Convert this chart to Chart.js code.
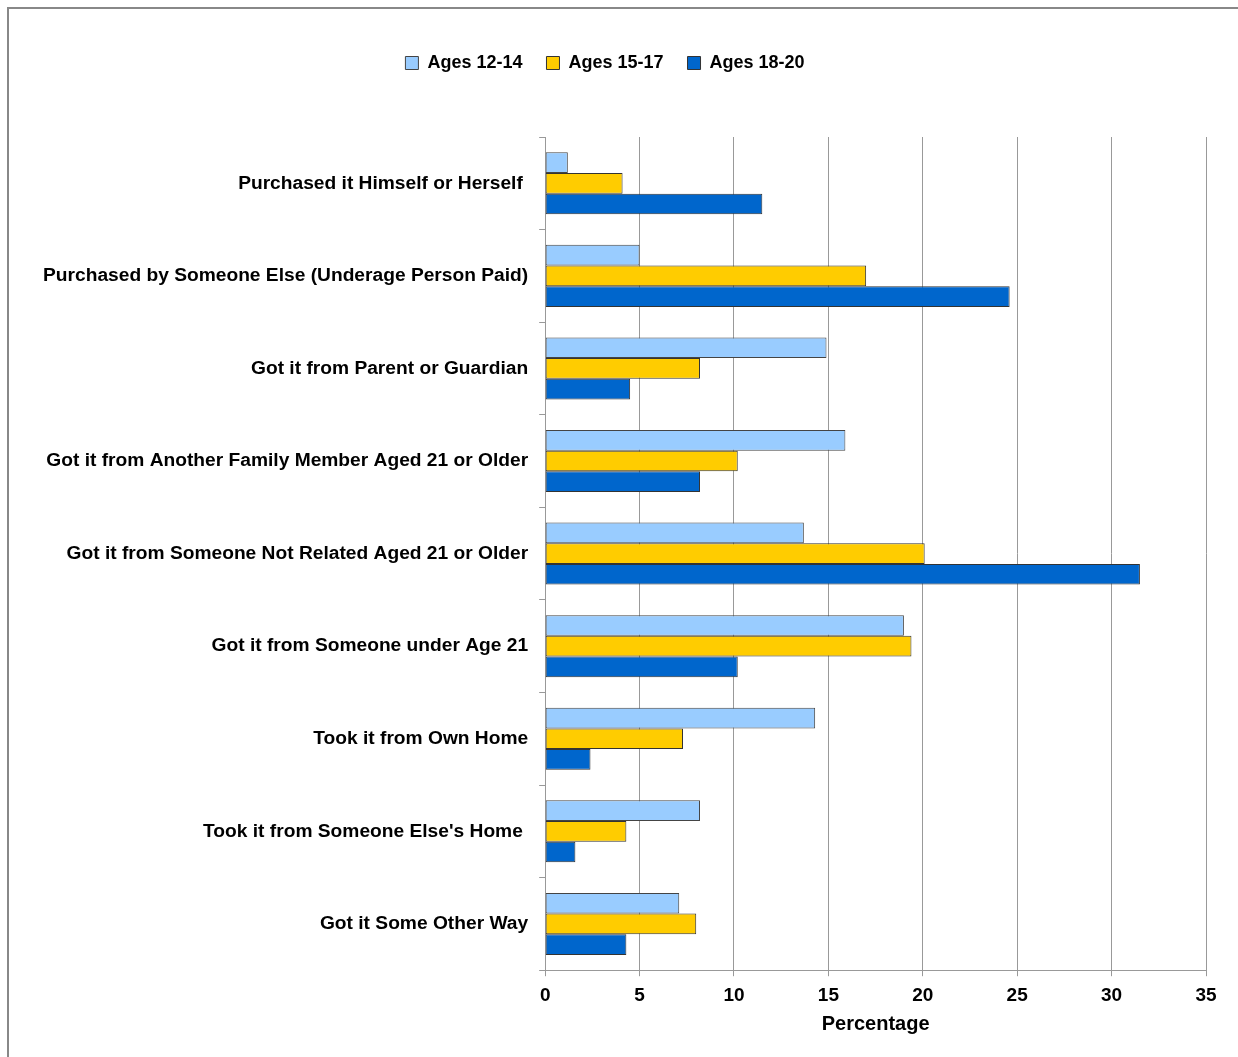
<!DOCTYPE html>
<html lang="en">
<head>
  <meta charset="UTF-8">
  <title>Source of Alcohol by Age</title>
  <script src="https://cdn.jsdelivr.net/npm/chart.js"></script>
  <style>
    body {
      margin: 0;
      padding: 0;
      background: #fff;
    }
    #frame {
      position: absolute;
      left: 7px;
      top: 7px;
      right: 0;
      bottom: 0;
      border-top: 2px solid #888;
      border-left: 2px solid #888;
    }
    #wrap {
      position: absolute;
      left: 0;
      top: 0;
      width: 1238px;
      height: 1057px;
    }
  </style>
</head>
<body>
  <div id="frame"></div>
  <div id="wrap"><canvas id="chart"></canvas></div>

  <script>
    const categories = [
      'Purchased it Himself or Herself ',
      'Purchased by Someone Else (Underage Person Paid)',
      'Got it from Parent or Guardian',
      'Got it from Another Family Member Aged 21 or Older',
      'Got it from Someone Not Related Aged 21 or Older',
      'Got it from Someone under Age 21',
      'Took it from Own Home',
      "Took it from Someone Else's Home ",
      'Got it Some Other Way'
    ];
    const ages12to14 = [1.2, 5.0, 14.9, 15.9, 13.7, 19.0, 14.3, 8.2, 7.1];
    const ages15to17 = [4.1, 17.0, 8.2, 10.2, 20.1, 19.4, 7.3, 4.3, 8.0];
    const ages18to20 = [11.5, 24.6, 4.5, 8.2, 31.5, 10.2, 2.4, 1.6, 4.3];

    const fam = "'Liberation Sans', Arial, sans-serif";
    const legendFont = { family: fam, size: 18, weight: 'bold' };
    const labelFont = { family: fam, size: 19.2, weight: 'bold' };
    const titleFont = { family: fam, size: 20, weight: 'bold' };
    const tickFont = { family: fam, size: 19, weight: 'bold' };

    // extra space under the legend, and move it a bit to the left
    const legendSpace = {
      id: 'legendSpace',
      beforeInit(chart) {
        const fit = chart.legend.fit;
        chart.legend.fit = function () {
          fit.bind(chart.legend)();
          this.height += 55;
        };
      },
      afterLayout(chart) {
        chart.legend.left -= 14;
        chart.legend.right -= 14;
      }
    };

    new Chart(document.getElementById('chart'), {
      type: 'bar',
      data: {
        labels: categories,
        datasets: [
          { label: 'Ages 12-14', data: ages12to14, backgroundColor: '#99ccff', borderColor: '#444', borderWidth: 1 },
          { label: 'Ages 15-17', data: ages15to17, backgroundColor: '#ffcc00', borderColor: '#333', borderWidth: 1 },
          { label: 'Ages 18-20', data: ages18to20, backgroundColor: '#0066cc', borderColor: '#333', borderWidth: 1 }
        ]
      },
      options: {
        indexAxis: 'y',
        responsive: true,
        maintainAspectRatio: false,
        animation: false,
        datasets: {
          bar: { categoryPercentage: 0.67, barPercentage: 1.0, borderSkipped: false }
        },
        layout: { padding: { top: 30, left: 32, right: 32, bottom: 17 } },
        plugins: {
          legend: {
            position: 'top',
            labels: {
              color: '#000',
              font: legendFont,
              boxWidth: 13,
              boxHeight: 13,
              padding: 24
            }
          },
          tooltip: { enabled: false }
        },
        scales: {
          x: {
            min: 0,
            max: 35,
            ticks: { stepSize: 5, color: '#000', font: tickFont, padding: 8 },
            grid: { color: '#999', lineWidth: 1, tickLength: 6 },
            border: { color: '#999' },
            title: { display: true, text: 'Percentage', color: '#000', font: titleFont, padding: { top: -3 } }
          },
          y: {
            ticks: { color: '#000', font: labelFont, padding: 11 },
            grid: { drawOnChartArea: false, offset: true, tickLength: 6, color: '#999' },
            border: { color: '#999' }
          }
        }
      },
      plugins: [legendSpace]
    });
  </script>
</body>
</html>
